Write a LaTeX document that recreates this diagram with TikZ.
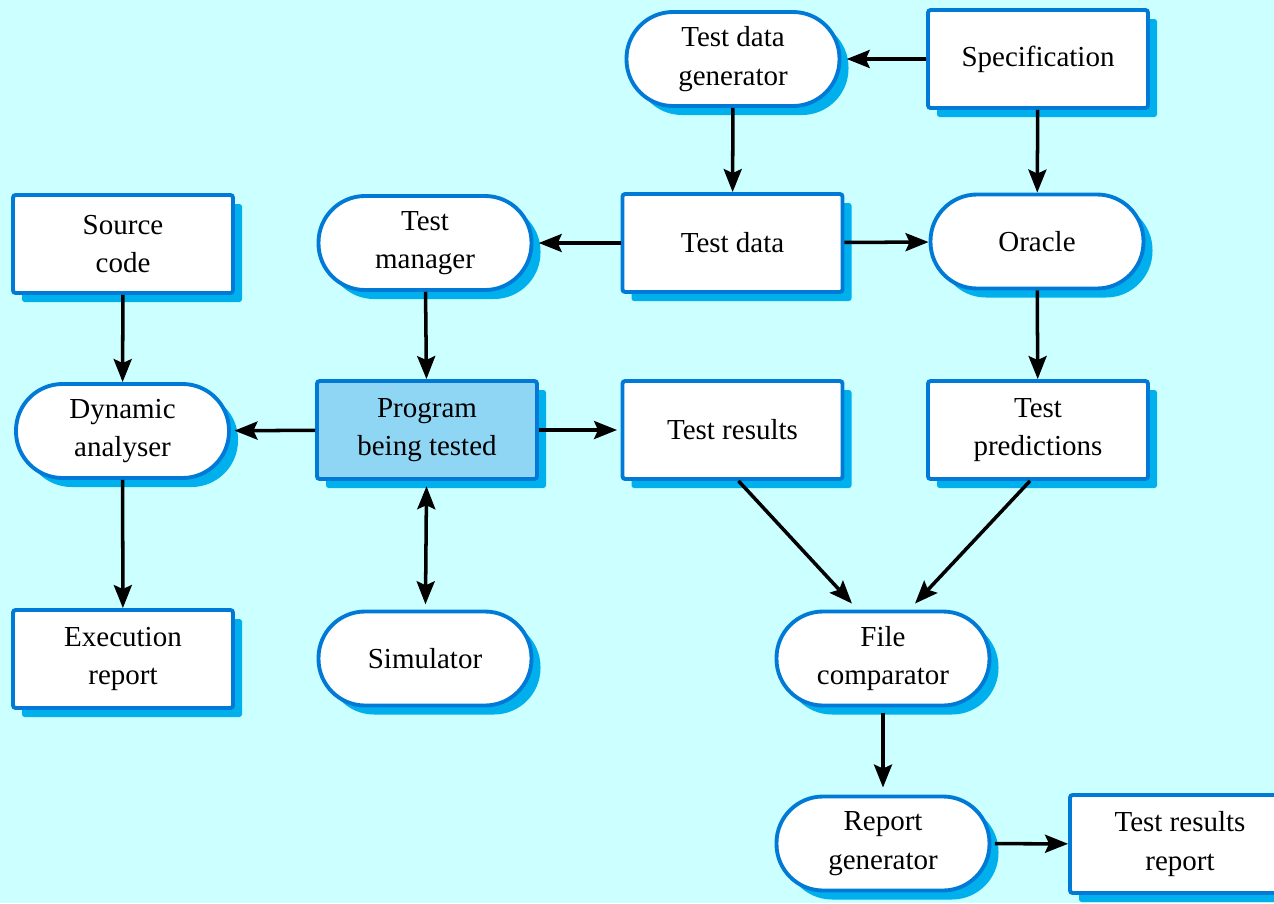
\documentclass[tikz,border=0pt]{standalone}
\usepackage{fontspec}
\setmainfont{Liberation Serif}
\usetikzlibrary{shadows,arrows.meta}
\definecolor{bgc}{RGB}{204,255,255}
\definecolor{bordc}{RGB}{0,122,214}
\definecolor{shadc}{RGB}{0,176,236}
\definecolor{progc}{RGB}{143,214,245}
\tikzset{
  rectbox/.style={draw=bordc, line width=2.2pt, fill=white, minimum width=4.4cm,
    minimum height=1.96cm, align=center, inner sep=2pt, rounded corners=1.5pt,
    font=\fontsize{16.5}{22}\selectfont,
    drop shadow={shadow xshift=0.18cm, shadow yshift=-0.18cm, fill=shadc, opacity=1}},
  termbox/.style={rectbox, rounded corners=0.93cm, minimum width=4.26cm, minimum height=1.88cm},
  arr/.style={line width=2pt, -{Stealth[length=0.46cm, width=0.36cm, inset=0.08cm]}},
  darr/.style={line width=2pt, {Stealth[length=0.46cm, width=0.36cm, inset=0.08cm]}-{Stealth[length=0.46cm, width=0.36cm, inset=0.08cm]}}
}
\begin{document}
\begin{tikzpicture}
\useasboundingbox (0,0) rectangle (25.48,-18.06);
\fill[bgc] (0,0) rectangle (25.48,-18.06);

% top row
\node[termbox] (tdg) at (14.66,-1.18) {Test data\\generator};
\node[rectbox] (spec) at (20.76,-1.18) {Specification};

% second row
\node[rectbox] (src) at (2.46,-4.88) {Source\\code};
\node[termbox] (tman) at (8.5,-4.86) {Test\\manager};
\node[rectbox] (tdata) at (14.65,-4.86) {Test data};
\node[termbox] (oracle) at (20.74,-4.83) {Oracle};

% third row
\node[termbox] (dyn) at (2.45,-8.62) {Dynamic\\analyser};
\node[rectbox, fill=progc] (prog) at (8.54,-8.6) {Program\\being tested};
\node[rectbox] (tres) at (14.65,-8.6) {Test results};
\node[rectbox] (tpred) at (20.76,-8.6) {Test\\predictions};

% fourth row
\node[rectbox] (exec) at (2.46,-13.18) {Execution\\report};
\node[termbox] (sim) at (8.5,-13.17) {Simulator};
\node[termbox] (fcomp) at (17.66,-13.17) {File\\comparator};

% bottom row (the last box runs past the right edge)
\node[termbox] (rgen) at (17.66,-16.87) {Report\\generator};
\node[rectbox, minimum width=4.8cm] (trr) at (23.8,-16.88) {\hspace*{-0.4cm}Test results\\\hspace*{-0.4cm}report};

% connectors
\draw[arr, shorten >=3pt] (spec) -- (tdg);
\draw[arr] (tdg) -- (tdata);
\draw[arr] (spec) -- (oracle);
\draw[arr, shorten >=3pt] (tdata) -- (tman);
\draw[arr] (tdata) -- (oracle);
\draw[arr] (src) -- (dyn);
\draw[arr] (tman) -- (prog);
\draw[arr, shorten >=2pt] (prog) -- (dyn);
\draw[arr, shorten >=2pt] (prog) -- (tres);
\draw[darr, shorten <=3pt, shorten >=3pt] (prog) -- (sim);
\draw[arr] (dyn) -- (exec);
\draw[arr] (oracle) -- (tpred);
\draw[arr] ([xshift=0.12cm]tres.south) -- ([xshift=-0.62cm,yshift=0.12cm]fcomp.north);
\draw[arr] ([xshift=-0.16cm]tpred.south) -- ([xshift=0.64cm,yshift=0.12cm]fcomp.north);
\draw[arr, shorten <=3pt, shorten >=4pt] (fcomp) -- (rgen);
\draw[arr, shorten <=2pt] (rgen) -- (trr);
\end{tikzpicture}
\end{document}
